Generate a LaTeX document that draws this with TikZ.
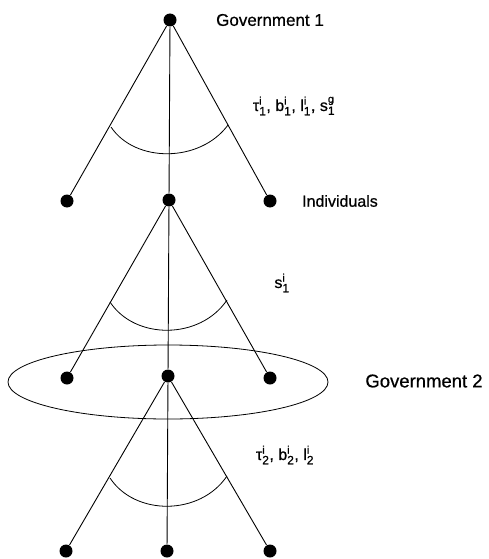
\documentclass[tikz,border=0pt]{standalone}
\usepackage{fontspec}
\setmainfont{Liberation Sans}
\newfontfamily\scanfont{Liberation Sans}[FakeBold=0.6]
\usetikzlibrary{shapes.geometric}
\newcommand\lbl[3]{#1$^{\hbox{\fontsize{11}{11}\selectfont #2}}_{\hbox{\fontsize{12}{12}\selectfont #3}}$}
\begin{document}
\begin{tikzpicture}[x=1pt,y=-1pt,line width=0.9pt,
  dot/.style={circle,fill=black,inner sep=0pt,minimum size=13pt},
  lab/.style={font=\scanfont\fontsize{16}{18}\selectfont},
  arcline/.style={line width=0.8pt}]
\useasboundingbox (0,0) rectangle (489,559);
% nodes
\node[dot] (t) at (170,20) {};
\node[dot] (a1) at (67,201) {};
\node[dot] (a2) at (169,200) {};
\node[dot] (a3) at (270,201) {};
\node[dot] (b1) at (67,378) {};
\node[dot] (b2) at (168,376) {};
\node[dot] (b3) at (270,378) {};
\node[dot] (c1) at (66,551) {};
\node[dot] (c2) at (167,551) {};
\node[dot] (c3) at (270,551) {};
% edges
\draw (t) -- (a1);
\draw (t) -- (a3);
\draw (t) -- (a2);
\draw (a2) -- (b1);
\draw (a2) -- (b3);
\draw (a2) -- (b2);
\draw (b2) -- (c1);
\draw (b2) -- (c3);
\draw (b2) -- (c2);
% arcs
\coordinate (p1) at (111,127); \coordinate (q1) at (228,125);
\draw[arcline] (p1) .. controls (135,163) and (200,163) .. (q1);
\coordinate (p2) at (110,302); \coordinate (q2) at (227,300);
\draw[arcline] (p2) .. controls (135,340) and (200,340) .. (q2);
\coordinate (p3) at (110,478); \coordinate (q3) at (227,476);
\draw[arcline] (p3) .. controls (135,516) and (200,516) .. (q3);
% ellipse
\node[draw,ellipse,line width=0.8pt,minimum width=320pt,minimum height=74pt,inner sep=0pt] (e) at (168,382) {};
% labels
\node[lab,font=\scanfont\fontsize{17}{19}\selectfont] (g1) at (270,20) {Government 1};
\node[lab] (l1) at (294,106) {\lbl{τ}{i}{1}, \lbl{b}{i}{1}, \lbl{l}{i}{1}, \lbl{s}{g}{1}};
\node[lab] (ind) at (340,201) {Individuals};
\node[lab] (l2) at (282,283) {\lbl{s}{i}{1}};
\node[lab,font=\scanfont\fontsize{18.5}{20}\selectfont] (g2) at (424,381) {Government 2};
\node[lab] (l3) at (285,455) {\lbl{τ}{i}{2}, \lbl{b}{i}{2}, \lbl{l}{i}{2}};
\end{tikzpicture}
\end{document}
